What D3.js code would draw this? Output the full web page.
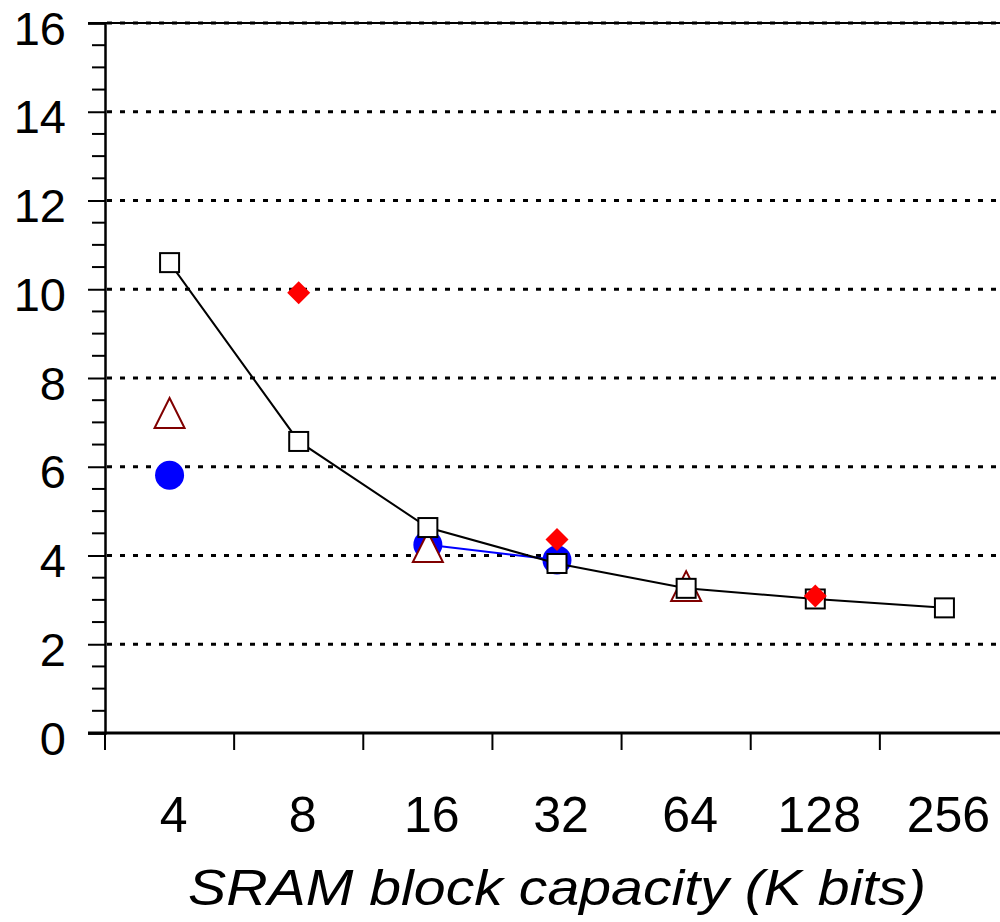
<!DOCTYPE html>
<html><head><meta charset="utf-8">
<script src="https://cdn.jsdelivr.net/npm/d3@7"></script>
<style>html,body{margin:0;padding:0;background:#fff;}svg{display:block;}</style>
</head><body>
<script>
const categories = ["4","8","16","32","64","128","256"];
const squareSeries   = [10.60, 6.57, 4.63, 3.82, 3.26, 3.02, 2.82];
const circleSeries   = [5.81, null, 4.24, 3.90, null, null, null];
const triangleSeries = [7.21, null, 4.19, null, 3.31, null, null];
const diamondSeries  = [null, 9.92, null, 4.36, null, 3.09, null];
const yTicks = [0,2,4,6,8,10,12,14,16];
const xTitle = "SRAM block capacity (K bits)";

const W = 1000, H = 922;
const svg = d3.select("body").append("svg").attr("width", W).attr("height", H);

const x = d3.scaleBand().domain(categories).range([105, 1009]).padding(0);
const y = d3.scaleLinear().domain([0, 16]).range([733, 23]);
const cx = c => x(c) + x.bandwidth() / 2;

// gridlines
svg.append("g").selectAll("line").data(yTicks.filter(t => t > 0)).join("line")
  .attr("x1", 107).attr("x2", W).attr("y1", d => y(d)).attr("y2", d => y(d))
  .attr("stroke", "#000").attr("stroke-width", 3).attr("stroke-dasharray", "5,8");

// top frame line
svg.append("line").attr("x1", 88).attr("x2", W).attr("y1", y(16)).attr("y2", y(16))
  .attr("stroke", "#000").attr("stroke-width", 2);

// y axis with minor ticks
const minor = d3.range(0, 16.01, 0.5).filter(v => v % 2 !== 0);
svg.append("g").selectAll("line").data(minor).join("line")
  .attr("x1", 92).attr("x2", 105).attr("y1", d => y(d)).attr("y2", d => y(d))
  .attr("stroke", "#000").attr("stroke-width", 2);
const yAxis = d3.axisLeft(y).tickValues(yTicks).tickSize(17).tickPadding(22).tickFormat(d3.format("d"));
const gy = svg.append("g").attr("transform", "translate(105,0)").call(yAxis);
gy.select(".domain").attr("stroke-width", 2.5);
gy.selectAll(".tick line").attr("stroke-width", 2);
gy.selectAll(".tick text").attr("font-family", "Liberation Sans, Arial, sans-serif")
  .attr("font-size", 47).attr("fill", "#000").attr("dy", "0.45em");

// x axis
const xAxis = d3.axisBottom(x).tickSize(0).tickPadding(0);
const gx = svg.append("g").attr("transform", "translate(0,733)").call(xAxis);
gx.select(".domain").remove();
svg.append("line").attr("x1", 88).attr("x2", W).attr("y1", 733).attr("y2", 733)
  .attr("stroke", "#000").attr("stroke-width", 3);
const bounds = categories.map(c => x(c)).concat([x.range()[1]]);
svg.append("g").selectAll("line").data(bounds).join("line")
  .attr("x1", d => d).attr("x2", d => d).attr("y1", 733).attr("y2", 750)
  .attr("stroke", "#000").attr("stroke-width", 2);
gx.selectAll(".tick text").attr("font-family", "Liberation Sans, Arial, sans-serif")
  .attr("font-size", 50).attr("fill", "#000").attr("dy", 0).attr("y", 99).attr("dx", 4);

// x title
svg.append("text").attr("x", 557).attr("y", 905).attr("text-anchor", "middle")
  .attr("font-family", "Liberation Sans, Arial, sans-serif").attr("font-style", "italic")
  .attr("font-size", 50).attr("fill", "#000")
  .attr("textLength", 738).attr("lengthAdjust", "spacingAndGlyphs").text(xTitle);

const pts = arr => categories.map((c, i) => ({c, v: arr[i]})).filter(d => d.v != null);
const lineGen = d3.line().defined(d => d.v != null).x(d => cx(d.c)).y(d => y(d.v));
const allPts = arr => categories.map((c, i) => ({c, v: arr[i]}));

// blue line + circles
svg.append("path").datum(allPts(circleSeries)).attr("d", lineGen)
  .attr("fill", "none").attr("stroke", "#0000ff").attr("stroke-width", 2);
svg.append("g").selectAll("circle").data(pts(circleSeries)).join("circle")
  .attr("cx", d => cx(d.c)).attr("cy", d => y(d.v)).attr("r", 14.5).attr("fill", "#0000ff");

// triangles
svg.append("g").selectAll("path").data(pts(triangleSeries)).join("path")
  .attr("d", d => { const px = cx(d.c), py = y(d.v); return `M${px},${py-15}L${px+15},${py+15}L${px-15},${py+15}Z`; })
  .attr("fill", "#fff").attr("stroke", "#800000").attr("stroke-width", 2);

// black line + squares
svg.append("path").datum(allPts(squareSeries)).attr("d", lineGen)
  .attr("fill", "none").attr("stroke", "#000").attr("stroke-width", 2);
svg.append("g").selectAll("rect").data(pts(squareSeries)).join("rect")
  .attr("x", d => cx(d.c) - 9.5).attr("y", d => y(d.v) - 9.5).attr("width", 19).attr("height", 19)
  .attr("fill", "#fff").attr("stroke", "#000").attr("stroke-width", 2);

// diamonds
svg.append("g").selectAll("path").data(pts(diamondSeries)).join("path")
  .attr("d", d => { const px = cx(d.c), py = y(d.v); return `M${px},${py-11.5}L${px+11.5},${py}L${px},${py+11.5}L${px-11.5},${py}Z`; })
  .attr("fill", "#ff0000");
</script>
</body></html>
